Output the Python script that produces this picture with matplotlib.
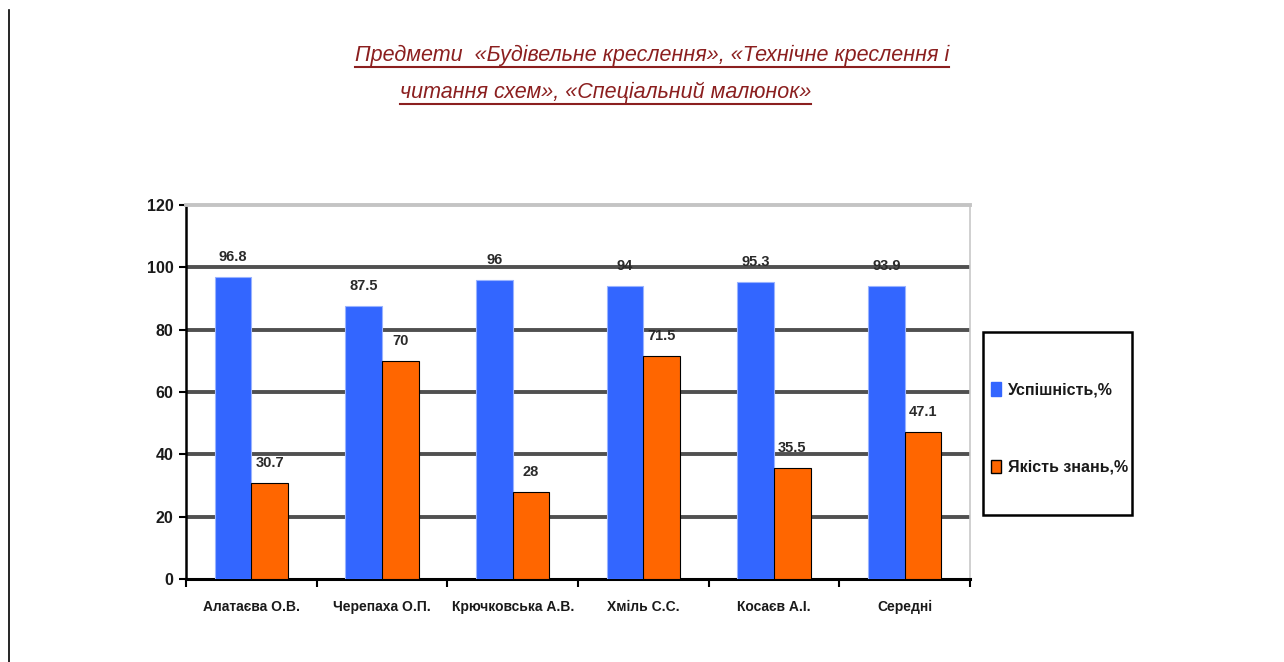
import matplotlib
matplotlib.use('Agg')
import matplotlib.pyplot as plt
from matplotlib.lines import Line2D
from matplotlib.patches import Rectangle, Patch

# дані з діаграми
names = ['Алатаєва О.В.', 'Черепаха О.П.', 'Крючковська А.В.', 'Хміль С.С.', 'Косаєв А.І.', 'Середні']
uspishnist = [96.8, 87.5, 96, 94, 95.3, 93.9]
yakist = [30.7, 70, 28, 71.5, 35.5, 47.1]
usp_labels = ['96.8', '87.5', '96', '94', '95.3', '93.9']
yak_labels = ['30.7', '70', '28', '71.5', '35.5', '47.1']
yticks = [0, 20, 40, 60, 80, 100, 120]

fam = ['Liberation Sans', 'DejaVu Sans']
plt.rcParams['font.family'] = fam

fig = plt.figure(figsize=(12.84, 6.62), dpi=100)
ax = fig.add_axes([0.1449, 0.1254, 0.6106, 0.5649])

x = list(range(len(names)))
w = 0.28
ax.bar([i - 0.14 for i in x], uspishnist, w, color='#3366ff', edgecolor='#99b3ff', lw=0.8, zorder=3)
ax.bar([i + 0.14 for i in x], yakist, w, color='#ff6600', edgecolor='#000000', lw=0.8, zorder=3)

for i in x:
    ax.annotate(usp_labels[i], (i - 0.14, uspishnist[i]), xytext=(0, 13), textcoords='offset pixels',
                ha='center', va='bottom', fontsize=10.5, fontweight='bold', color='#2a2a2a', zorder=5)
    ax.annotate(yak_labels[i], (i + 0.14, yakist[i]), xytext=(0, 13), textcoords='offset pixels',
                ha='center', va='bottom', fontsize=10.5, fontweight='bold', color='#2a2a2a', zorder=5)

ax.set_xlim(-0.5, 5.5)
ax.set_ylim(0, 120)
ax.set_yticks(yticks)
ax.set_yticklabels([str(v) for v in yticks], fontsize=11.5, fontweight='bold', color='#1a1a1a')
for v in yticks[1:-1]:
    ax.axhline(v, color='#505050', lw=2.8, zorder=1)

# тики між групами
ax.set_xticks([i - 0.5 for i in range(len(names) + 1)])
ax.set_xticklabels([])
ax.set_xticks(x, minor=True)
ax.set_xticklabels(names, minor=True, fontsize=10, fontweight='bold', color='#1a1a1a')
ax.tick_params(axis='x', which='minor', length=0, pad=15)
ax.tick_params(axis='x', which='major', length=6, width=1.5, direction='out', color='black')
ax.tick_params(axis='y', length=5, width=1.5, direction='out', pad=4)

ax.spines['left'].set_color('black')
ax.spines['left'].set_linewidth(1.8)
ax.spines['bottom'].set_color('black')
ax.spines['bottom'].set_linewidth(2.2)
ax.spines['top'].set_color('#c4c4c4')
ax.spines['top'].set_linewidth(2.8)
ax.spines['right'].set_color('#c8c8c8')
ax.spines['right'].set_linewidth(1.2)

# рамка легенди
fig.patches.append(Rectangle((983 / 1284, 1 - 515 / 662), 149 / 1284, 183 / 662,
                             transform=fig.transFigure, fill=False, edgecolor='black', lw=1.8))
handles = [Patch(facecolor='#3366ff', edgecolor='#3366ff', label='Успішність,%'),
           Patch(facecolor='#ff6600', edgecolor='black', label='Якість знань,%')]
fig.legend(handles=handles, loc='upper left', bbox_to_anchor=(977 / 1284, 1 - 368 / 662),
           frameon=False, labelspacing=3.9, handlelength=0.6, handleheight=0.9, handletextpad=0.45,
           prop={'family': fam, 'weight': 'bold', 'size': 11.5}, labelcolor='#1a1a1a')

# заголовок з підкресленням
title_col = '#8b1f1f'
t1 = fig.text(355 / 1284, 1 - 55 / 662, 'Предмети  «Будівельне креслення», «Технічне креслення і',
              ha='left', va='center', fontsize=15.5, style='italic', color=title_col)
t2 = fig.text(400 / 1284, 1 - 92 / 662, 'читання схем», «Спеціальний малюнок»',
              ha='left', va='center', fontsize=15.5, style='italic', color=title_col)

# ліва вертикальна лінія
fig.add_artist(Line2D([9 / 1284, 9 / 1284], [0, 1 - 10 / 662], color='black', lw=1.2))

fig.canvas.draw()
r = fig.canvas.get_renderer()
for t in (t1, t2):
    bb = t.get_window_extent(r)
    yy = (bb.y0 - 1) / 662
    fig.add_artist(Line2D([bb.x0 / 1284, bb.x1 / 1284], [yy, yy], color=title_col, lw=1.5))

fig.savefig('out.png', dpi=100)
